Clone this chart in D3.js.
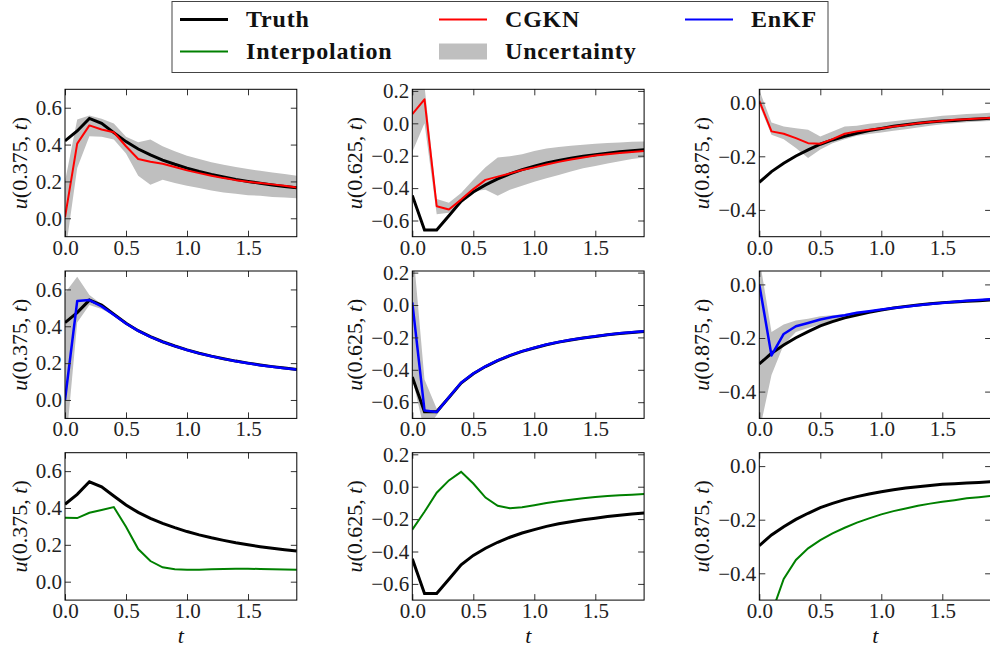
<!DOCTYPE html>
<html>
<head>
<meta charset="utf-8">
<script src="https://cdn.jsdelivr.net/npm/d3@7"></script>
<style>
  body { margin: 0; background: #fff; }
  svg text { font-family: "Liberation Serif" !important; }
</style>
</head>
<body>
<svg id="chart" width="990" height="647"></svg>
<script>
// time grid
const tValues = [0.0, 0.1, 0.2, 0.3, 0.4, 0.5, 0.6, 0.7, 0.8, 0.9, 1.0, 1.1, 1.2, 1.3, 1.4, 1.5, 1.6, 1.7, 1.8, 1.9];

// truth at the three probe points
const truth375 = [0.420, 0.474, 0.542, 0.515, 0.465, 0.416, 0.376, 0.344, 0.316, 0.293, 0.272, 0.254, 0.238, 0.224, 0.211, 0.200, 0.190, 0.181, 0.173, 0.166];
const truth625 = [-0.445, -0.659, -0.659, -0.571, -0.482, -0.424, -0.380, -0.343, -0.312, -0.286, -0.265, -0.245, -0.229, -0.216, -0.204, -0.194, -0.184, -0.176, -0.169, -0.163];
const truth875 = [-0.297, -0.257, -0.226, -0.199, -0.176, -0.155, -0.139, -0.125, -0.114, -0.104, -0.096, -0.088, -0.082, -0.077, -0.072, -0.068, -0.066, -0.063, -0.061, -0.058];

// CGKN mean + band
const cgkn375 = [0.005, 0.405, 0.504, 0.482, 0.467, 0.391, 0.322, 0.307, 0.296, 0.278, 0.260, 0.245, 0.231, 0.218, 0.207, 0.198, 0.191, 0.184, 0.176, 0.167];
const cgknHi375 = [0.200, 0.536, 0.558, 0.540, 0.515, 0.442, 0.413, 0.427, 0.391, 0.364, 0.340, 0.322, 0.304, 0.291, 0.278, 0.267, 0.258, 0.249, 0.240, 0.231];
const cgknLo375 = [-0.200, 0.273, 0.445, 0.442, 0.427, 0.351, 0.231, 0.182, 0.209, 0.191, 0.176, 0.164, 0.151, 0.140, 0.133, 0.125, 0.122, 0.116, 0.113, 0.109];
const cgkn625 = [0.057, 0.148, -0.512, -0.532, -0.471, -0.406, -0.349, -0.329, -0.309, -0.288, -0.272, -0.254, -0.238, -0.223, -0.211, -0.199, -0.191, -0.183, -0.177, -0.171];
const cgknHi625 = [0.200, 0.230, -0.467, -0.491, -0.430, -0.349, -0.272, -0.211, -0.203, -0.191, -0.171, -0.156, -0.146, -0.138, -0.132, -0.126, -0.122, -0.118, -0.114, -0.112];
const cgknLo625 = [-0.177, 0.000, -0.562, -0.552, -0.495, -0.420, -0.410, -0.447, -0.410, -0.386, -0.360, -0.339, -0.319, -0.298, -0.278, -0.264, -0.248, -0.234, -0.221, -0.211];
const cgkn875 = [0.007, -0.107, -0.116, -0.132, -0.151, -0.153, -0.136, -0.116, -0.107, -0.101, -0.095, -0.089, -0.083, -0.077, -0.072, -0.068, -0.064, -0.062, -0.059, -0.057];
const cgknHi875 = [0.047, -0.074, -0.089, -0.095, -0.101, -0.126, -0.107, -0.089, -0.086, -0.079, -0.074, -0.069, -0.064, -0.059, -0.054, -0.049, -0.046, -0.042, -0.040, -0.037];
const cgknLo875 = [-0.009, -0.120, -0.136, -0.169, -0.206, -0.175, -0.151, -0.136, -0.123, -0.117, -0.111, -0.105, -0.099, -0.093, -0.086, -0.080, -0.077, -0.073, -0.070, -0.068];

// EnKF mean + band
const enkf375 = [0.000, 0.537, 0.542, 0.508, 0.463, 0.415, 0.375, 0.343, 0.315, 0.292, 0.271, 0.253, 0.237, 0.223, 0.210, 0.199, 0.189, 0.180, 0.172, 0.165];
const enkfHi375 = [0.580, 0.669, 0.570, 0.519, 0.468, 0.420, 0.379, 0.346, 0.318, 0.295, 0.274, 0.256, 0.240, 0.226, 0.213, 0.202, 0.192, 0.183, 0.175, 0.168];
const enkfLo375 = [-0.300, 0.420, 0.515, 0.494, 0.458, 0.410, 0.371, 0.340, 0.312, 0.289, 0.268, 0.250, 0.234, 0.220, 0.207, 0.196, 0.186, 0.177, 0.169, 0.162];
const enkf625 = [0.016, -0.651, -0.661, -0.569, -0.480, -0.423, -0.379, -0.342, -0.311, -0.285, -0.264, -0.244, -0.228, -0.215, -0.203, -0.193, -0.183, -0.175, -0.168, -0.162];
const enkfHi625 = [0.400, -0.460, -0.640, -0.562, -0.474, -0.418, -0.374, -0.338, -0.307, -0.281, -0.260, -0.240, -0.224, -0.211, -0.199, -0.189, -0.179, -0.171, -0.164, -0.158];
const enkfLo625 = [-0.450, -0.780, -0.680, -0.576, -0.486, -0.428, -0.384, -0.346, -0.315, -0.289, -0.268, -0.248, -0.232, -0.219, -0.207, -0.197, -0.187, -0.179, -0.172, -0.166];
const enkf875 = [0.000, -0.265, -0.185, -0.156, -0.144, -0.131, -0.122, -0.115, -0.106, -0.100, -0.094, -0.088, -0.083, -0.078, -0.073, -0.069, -0.065, -0.061, -0.058, -0.055];
const enkfHi875 = [0.100, -0.178, -0.150, -0.135, -0.128, -0.119, -0.115, -0.110, -0.102, -0.097, -0.091, -0.085, -0.080, -0.075, -0.070, -0.066, -0.062, -0.058, -0.055, -0.052];
const enkfLo875 = [-0.550, -0.338, -0.225, -0.178, -0.163, -0.150, -0.138, -0.128, -0.115, -0.107, -0.098, -0.091, -0.086, -0.081, -0.076, -0.072, -0.068, -0.064, -0.061, -0.058];

// interpolation baseline
const interp375 = [0.347, 0.345, 0.374, 0.389, 0.405, 0.298, 0.177, 0.112, 0.078, 0.067, 0.065, 0.065, 0.067, 0.069, 0.070, 0.070, 0.069, 0.068, 0.066, 0.065];
const interp625 = [-0.265, -0.155, -0.037, 0.039, 0.092, 0.020, -0.067, -0.118, -0.133, -0.127, -0.114, -0.100, -0.090, -0.080, -0.071, -0.063, -0.057, -0.053, -0.049, -0.045];
const interp875 = [-0.850, -0.550, -0.421, -0.350, -0.307, -0.276, -0.251, -0.230, -0.211, -0.195, -0.180, -0.168, -0.158, -0.148, -0.140, -0.133, -0.127, -0.120, -0.116, -0.111];

// axes
const xTicks = [0.0, 0.5, 1.0, 1.5];
const probeLabels = ["0.375", "0.625", "0.875"];
const yDomains = [[-0.1, 0.7], [-0.7, 0.21], [-0.5, 0.05]];
const yTicks = [[0.0, 0.2, 0.4, 0.6], [-0.6, -0.4, -0.2, 0.0, 0.2], [-0.4, -0.2, 0.0]];

const legendItems = [
  { name: "Truth", color: "#000000", kind: "line", w: 3 },
  { name: "CGKN", color: "#ff0000", kind: "line", w: 2 },
  { name: "EnKF", color: "#0000ff", kind: "line", w: 2 },
  { name: "Interpolation", color: "#008000", kind: "line", w: 2 },
  { name: "Uncertainty", color: "#bfbfbf", kind: "patch" }
];

// tables built from the arrays above
const columns = [
  { truth: truth375, cgkn: [cgkn375, cgknLo375, cgknHi375], enkf: [enkf375, enkfLo375, enkfHi375], interp: interp375 },
  { truth: truth625, cgkn: [cgkn625, cgknLo625, cgknHi625], enkf: [enkf625, enkfLo625, enkfHi625], interp: interp625 },
  { truth: truth875, cgkn: [cgkn875, cgknLo875, cgknHi875], enkf: [enkf875, enkfLo875, enkfHi875], interp: interp875 }
];
const rowsCfg = [
  { key: "cgkn", color: "#ff0000", width: 2 },
  { key: "enkf", color: "#0000ff", width: 2.5 },
  { key: "interp", color: "#008000", width: 2 }
];

const colX = [65, 412.3, 759.3];
const rowY = [89.3, 271, 452.7];
const pw = 231.8, ph = 147.4;
const serif = "Liberation Serif";
const fmt = d3.format(".1f");

const svg = d3.select("#chart");
svg.append("rect").attr("width", 990).attr("height", 647).attr("fill", "#fff");

function drawPanel(r, c) {
  const col = columns[c], row = rowsCfg[r];
  const g = svg.append("g").attr("transform", `translate(${colX[c]},${rowY[r]})`);
  const x = d3.scaleLinear().domain([0, 1.9]).range([0, pw]);
  const y = d3.scaleLinear().domain(yDomains[c]).range([ph, 0]);

  const clipId = `clip-${r}-${c}`;
  g.append("clipPath").attr("id", clipId)
    .append("rect").attr("width", pw).attr("height", ph);
  const plot = g.append("g").attr("clip-path", `url(#${clipId})`);

  const line = d3.line().x((d, i) => x(tValues[i])).y(d => y(d));

  if (row.key !== "interp") {
    const [mean, lo, hi] = col[row.key];
    const area = d3.area()
      .x((d, i) => x(tValues[i]))
      .y0((d, i) => y(lo[i]))
      .y1((d, i) => y(hi[i]));
    plot.append("path").datum(mean).attr("d", area).attr("fill", "#bfbfbf");
    plot.append("path").datum(col.truth).attr("d", line)
      .attr("fill", "none").attr("stroke", "#000").attr("stroke-width", 3);
    plot.append("path").datum(mean).attr("d", line)
      .attr("fill", "none").attr("stroke", row.color).attr("stroke-width", row.width)
      .attr("stroke-linejoin", "round");
  } else {
    plot.append("path").datum(col.truth).attr("d", line)
      .attr("fill", "none").attr("stroke", "#000").attr("stroke-width", 3);
    plot.append("path").datum(col.interp).attr("d", line)
      .attr("fill", "none").attr("stroke", row.color).attr("stroke-width", row.width);
  }

  // ticks, all pointing inwards
  const styleAxis = sel => {
    sel.attr("font-family", serif).attr("font-size", 21);
    sel.select(".domain").remove();
    sel.selectAll(".tick line").attr("stroke", "#333").attr("stroke-width", 1);
    sel.selectAll(".tick text").attr("fill", "#222").attr("font-family", serif);
  };
  const yl = g.append("g")
    .call(d3.axisLeft(y).tickValues(yTicks[c]).tickFormat(fmt).tickSize(-6).tickPadding(3))
    .call(styleAxis);
  g.append("g").attr("transform", `translate(${pw},0)`)
    .call(d3.axisRight(y).tickValues(yTicks[c]).tickFormat("").tickSize(-6))
    .call(styleAxis);
  g.append("g")
    .call(d3.axisTop(x).tickValues(xTicks).tickFormat("").tickSize(-6))
    .call(styleAxis);
  g.append("g").attr("transform", `translate(0,${ph})`)
    .call(d3.axisBottom(x).tickValues(xTicks).tickFormat(fmt).tickSize(-6).tickPadding(3))
    .call(styleAxis);

  g.append("rect").attr("width", pw).attr("height", ph)
    .attr("fill", "none").attr("stroke", "#000").attr("stroke-width", 1);

  // y label placed left of the widest tick label
  let minX = 0;
  yl.selectAll(".tick text").each(function () {
    const b = this.getBBox();
    minX = Math.min(minX, b.x);
  });
  const fs = 22;
  const lab = g.append("text")
    .attr("transform", `translate(${minX - 4 - 0.22 * fs},${ph / 2}) rotate(-90)`)
    .attr("text-anchor", "middle")
    .attr("font-family", serif).attr("font-size", fs).attr("fill", "#111");
  lab.append("tspan").attr("font-style", "italic").text("u");
  lab.append("tspan").text(`(${probeLabels[c]}, `);
  lab.append("tspan").attr("font-style", "italic").text("t");
  lab.append("tspan").text(")");

  if (r === 2) {
    g.append("text")
      .attr("x", pw / 2).attr("y", ph + 43)
      .attr("text-anchor", "middle")
      .attr("font-family", serif).attr("font-size", 22).attr("font-style", "italic")
      .attr("fill", "#111").text("t");
  }
}

for (let r = 0; r < 3; r++) {
  for (let c = 0; c < 3; c++) drawPanel(r, c);
}

// legend
const leg = svg.append("g");
leg.append("rect")
  .attr("x", 172).attr("y", 1.5).attr("width", 656).attr("height", 71)
  .attr("fill", "#fff").attr("stroke", "#444").attr("stroke-width", 1);
const legColX = [180, 439, 685];
const legRowY = [19.5, 51.5];
legendItems.forEach((d, i) => {
  const lx = legColX[i % 3], ly = legRowY[Math.floor(i / 3)];
  if (d.kind === "line") {
    leg.append("line")
      .attr("x1", lx).attr("x2", lx + 48).attr("y1", ly).attr("y2", ly)
      .attr("stroke", d.color).attr("stroke-width", d.w);
  } else {
    leg.append("rect")
      .attr("x", lx).attr("y", ly - 8).attr("width", 48).attr("height", 16)
      .attr("fill", d.color);
  }
  leg.append("text")
    .attr("x", lx + 66).attr("y", ly + 7.5)
    .attr("font-family", serif).attr("font-size", 24).attr("font-weight", "bold")
    .attr("letter-spacing", "0.8px")
    .attr("fill", "#111").text(d.name);
});
</script>
</body>
</html>
